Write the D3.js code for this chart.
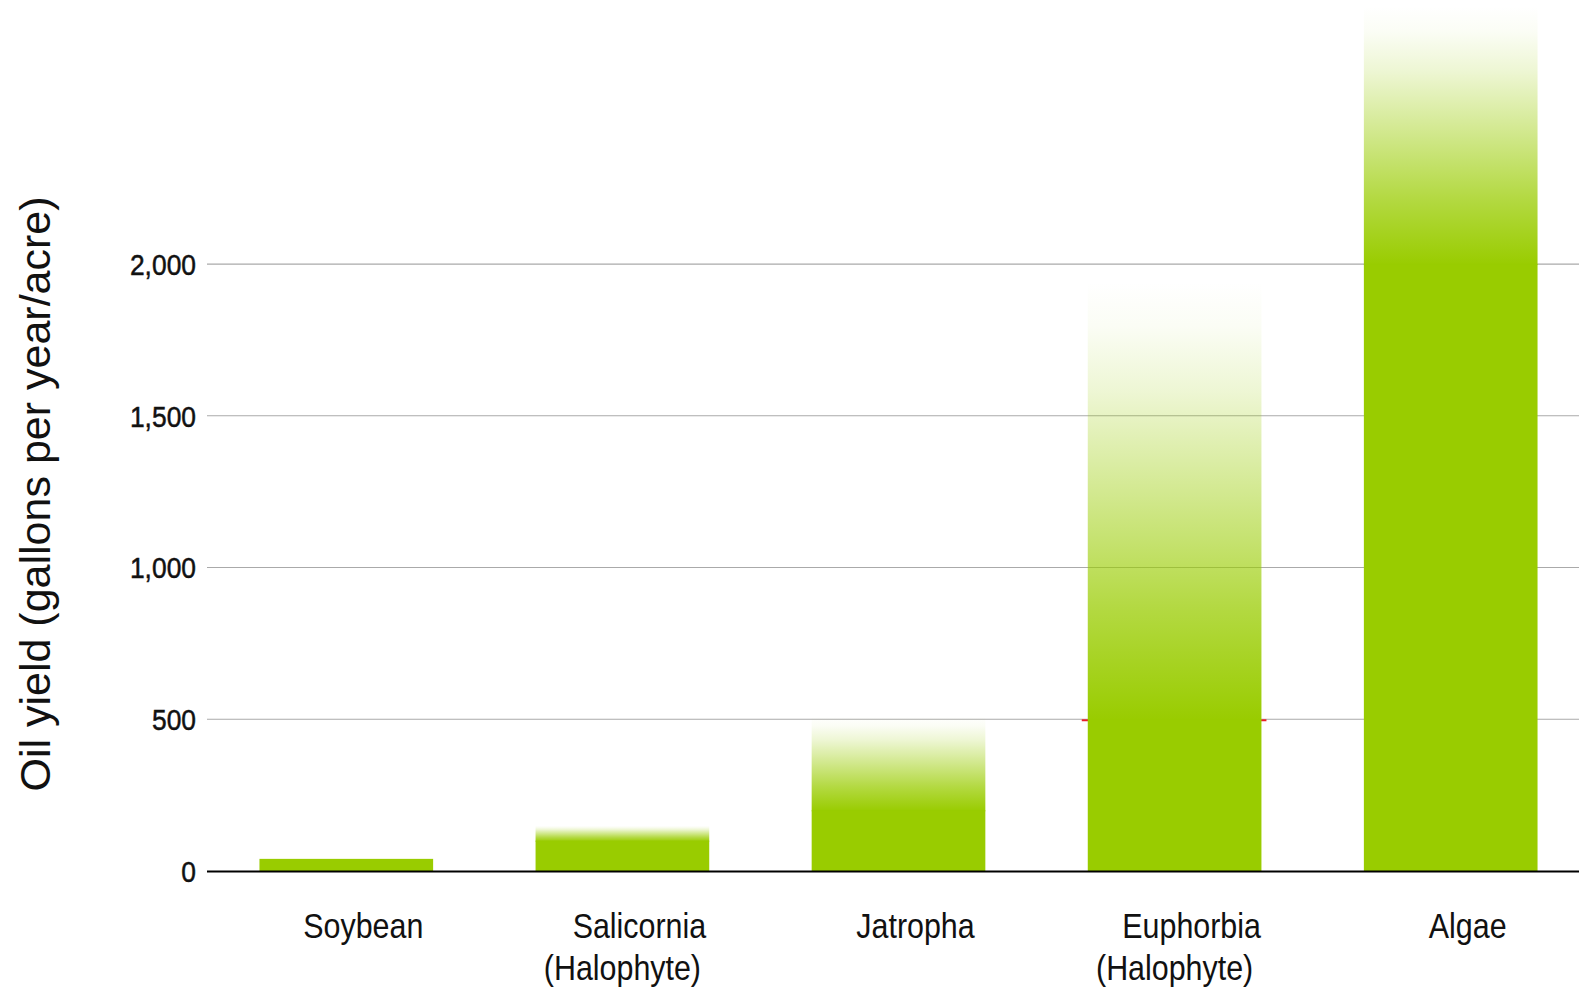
<!DOCTYPE html>
<html>
<head>
<meta charset="utf-8">
<script src="https://cdn.jsdelivr.net/npm/d3@7"></script>
<style>
  html, body { margin: 0; padding: 0; background: #fff; }
  svg { display: block; }
  text { font-family: "Liberation Sans", Arial, sans-serif; }
</style>
</head>
<body>
<svg id="chart" width="1579" height="995"></svg>
<script>
// Oil yield by feedstock, gallons per year per acre
const categories = ["Soybean", "Salicornia", "Jatropha", "Euphorbia", "Algae"];
const subLabels = ["", "(Halophyte)", "", "(Halophyte)", ""];
// proven yield (solid part of each bar)
const provenYield = [40, 100, 200, 500, 2000];
// upper end of the projected range (faded part of each bar)
const potentialYield = [40, 150, 510, 1940, 2850];
const yTicks = [0, 500, 1000, 1500, 2000];
// red marker line drawn behind the Euphorbia bar
const markerCategory = ["Euphorbia"];
const markerValue = [500];

const GREEN = "#99cc00";
const svg = d3.select("#chart");

const x = d3.scaleBand()
  .domain(categories)
  .range([207, 1590])
  .paddingInner(0.371)
  .paddingOuter(0.19);

const y = d3.scaleLinear()
  .domain([0, 2870])
  .range([871, 0]);

// gradient: full green at the bottom fading to transparent at the top
const defs = svg.append("defs");
const grad = defs.append("linearGradient")
  .attr("id", "fade")
  .attr("x1", 0).attr("y1", 1)
  .attr("x2", 0).attr("y2", 0);
[[0, 1], [0.25, 0.75], [0.5, 0.46], [0.75, 0.17], [0.9, 0.04], [1, 0]].forEach(([o, a]) => {
  grad.append("stop")
    .attr("offset", o)
    .attr("stop-color", GREEN)
    .attr("stop-opacity", a);
});

// gridlines
svg.append("g")
  .selectAll("line")
  .data(yTicks.filter(d => d > 0))
  .join("line")
  .attr("x1", 207).attr("x2", 1579)
  .attr("y1", d => y(d)).attr("y2", d => y(d))
  .attr("stroke", "#aaaaaa")
  .attr("stroke-width", 1.2);

// y tick labels (narrow face made by squeezing horizontally)
svg.append("g")
  .selectAll("g")
  .data(yTicks)
  .join("g")
  .attr("transform", d => `translate(196,${y(d)}) scale(0.88,1)`)
  .append("text")
  .attr("dy", "0.36em")
  .attr("text-anchor", "end")
  .attr("font-size", 30)
  .attr("fill", "#111")
  .attr("stroke", "#111")
  .attr("stroke-width", 0.5)
  .text(d => d3.format(",")(d));

// red marker line
svg.append("g")
  .selectAll("line")
  .data(markerCategory.map((c, i) => ({ c, v: markerValue[i] })))
  .join("line")
  .attr("x1", d => x(d.c) - 6)
  .attr("x2", d => x(d.c) + x.bandwidth() + 5)
  .attr("y1", d => y(d.v) + 1).attr("y2", d => y(d.v) + 1)
  .attr("stroke", "#e8202a")
  .attr("stroke-width", 2);

const rows = categories.map((c, i) => ({
  c, proven: provenYield[i], potential: potentialYield[i], sub: subLabels[i]
}));

// faded range part (reaches 1px into the solid part to avoid a seam)
svg.append("g")
  .selectAll("rect")
  .data(rows.filter(d => d.potential > d.proven))
  .join("rect")
  .attr("x", d => x(d.c))
  .attr("width", x.bandwidth())
  .attr("y", d => y(d.potential))
  .attr("height", d => y(d.proven) - y(d.potential) + 1)
  .attr("fill", "url(#fade)");

// solid proven part
svg.append("g")
  .selectAll("rect")
  .data(rows)
  .join("rect")
  .attr("x", d => x(d.c))
  .attr("width", x.bandwidth())
  .attr("y", d => y(d.proven))
  .attr("height", d => y(0) - y(d.proven))
  .attr("fill", GREEN);

// baseline
svg.append("line")
  .attr("x1", 207).attr("x2", 1579)
  .attr("y1", y(0) + 0.5).attr("y2", y(0) + 0.5)
  .attr("stroke", "#000")
  .attr("stroke-width", 2.2);

// category labels
const squeeze = 0.845;
const lab = svg.append("g")
  .selectAll("g")
  .data(rows)
  .join("g");
lab.append("g")
  .attr("transform", d => `translate(${x(d.c) + x.bandwidth() / 2 + 17},938) scale(${squeeze},1)`)
  .append("text")
  .attr("text-anchor", "middle")
  .attr("font-size", 36)
  .attr("fill", "#111")
  .text(d => d.c);
lab.filter(d => d.sub)
  .append("g")
  .attr("transform", d => `translate(${x(d.c) + x.bandwidth() / 2},980) scale(${squeeze},1)`)
  .append("text")
  .attr("text-anchor", "middle")
  .attr("font-size", 36)
  .attr("fill", "#111")
  .text(d => d.sub);

// y axis title
svg.append("text")
  .attr("transform", "translate(50,494) rotate(-90)")
  .attr("text-anchor", "middle")
  .attr("font-size", 43)
  .attr("fill", "#111")
  .text("Oil yield (gallons per year/acre)");
</script>
</body>
</html>
